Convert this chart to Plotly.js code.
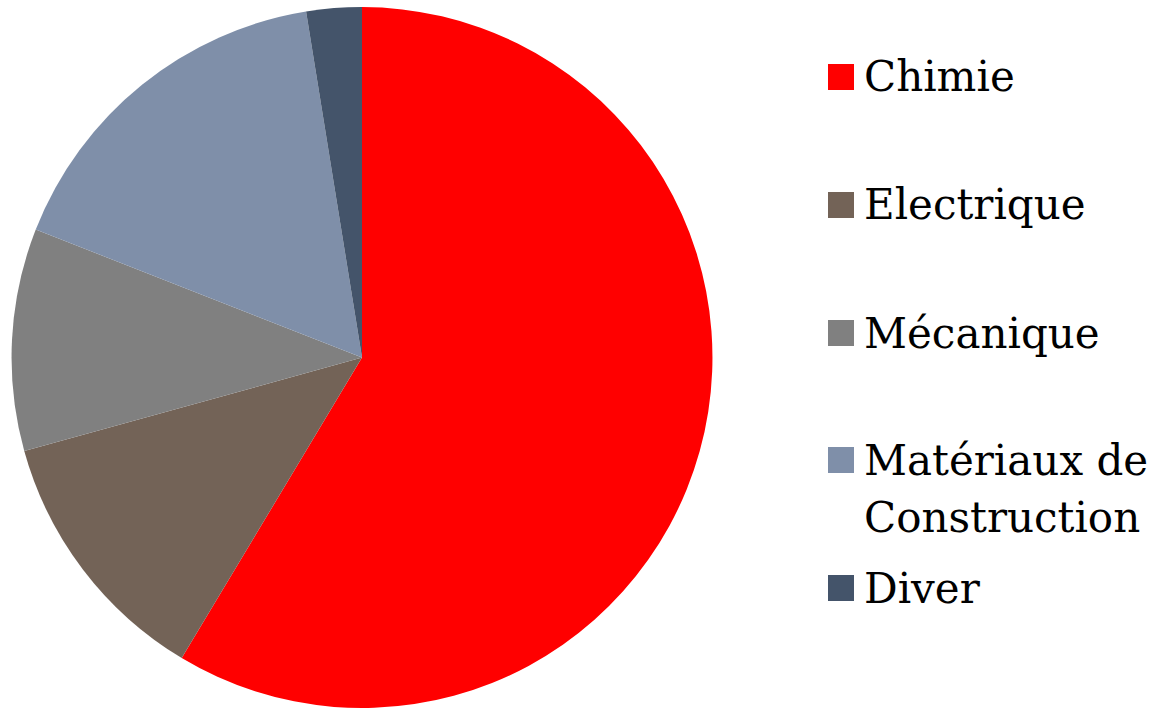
<!DOCTYPE html>
<html>
<head>
<meta charset="utf-8">
<script src="https://cdn.plot.ly/plotly-3.0.1.min.js"></script>
<style>html,body{margin:0;padding:0;background:#fff;}#chart{width:1163px;height:708px;}</style>
</head>
<body>
<div id="chart"></div>
<script>
// Data
const categories = ["Chimie", "Electrique", "Mécanique", "Matériaux de<br>Construction", "Diver"];
const shares = [58.6, 12.1, 10.25, 16.5, 2.55];
const colors = ["#FF0000", "#736357", "#808080", "#7F8FA9", "#44546A"];

// Legend layout (pixel positions of each entry's first line centre)
const W = 1163, H = 708;
const legendRowY = [77, 205, 333, 460, 588];
const legendSquareX = 828, legendSquareSize = 26, legendTextX = 862, lineGap = 57;
const legendFont = {family: "DejaVu Serif, Liberation Serif, serif", size: 42, color: "#000"};

const shapes = [], annotations = [];
categories.forEach((cat, i) => {
  const cy = legendRowY[i];
  shapes.push({
    type: "rect", xref: "paper", yref: "paper",
    x0: legendSquareX / W, x1: (legendSquareX + legendSquareSize) / W,
    y0: 1 - (cy + legendSquareSize / 2) / H, y1: 1 - (cy - legendSquareSize / 2) / H,
    fillcolor: colors[i], line: {width: 0}
  });
  cat.split("<br>").forEach((line, j) => {
    annotations.push({
      xref: "paper", yref: "paper", x: legendTextX / W, y: 1 - (cy + j * lineGap) / H,
      xanchor: "left", yanchor: "middle", showarrow: false, text: line, font: legendFont
    });
  });
});

const trace = {
  type: "pie",
  labels: categories,
  values: shares,
  marker: {colors: colors, line: {width: 0}},
  sort: false,
  direction: "clockwise",
  rotation: 0,
  textinfo: "none",
  hoverinfo: "label+percent",
  showlegend: false,
  domain: {x: [10 / W, 714 / W], y: [0, 0.99]}
};

const layout = {
  width: W, height: H,
  margin: {l: 0, r: 0, t: 0, b: 0},
  paper_bgcolor: "#fff",
  showlegend: false,
  shapes: shapes,
  annotations: annotations
};

Plotly.newPlot("chart", [trace], layout, {displayModeBar: false, staticPlot: true});
</script>
</body>
</html>
